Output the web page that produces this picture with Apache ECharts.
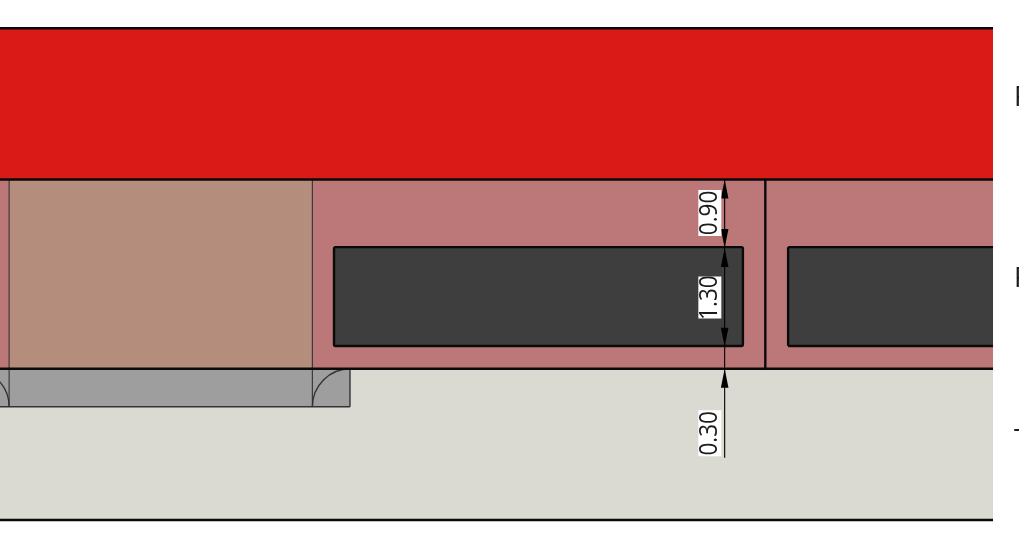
<!DOCTYPE html>
<html>
<head>
<meta charset="utf-8">
<style>html,body{margin:0;padding:0;background:#fff;overflow:hidden}#c{width:1019px;height:539px}</style>
<script src="https://cdn.jsdelivr.net/npm/echarts@6/dist/echarts.min.js"></script>
</head>
<body>
<div id="c"></div>
<script>
// Values in millimetres
const layerNames = ['F', 'F', 'T'];
const layerThickness = [1.99, 2.49, 1.99];      // top red, middle, bottom
const padWidths = [5.38, 3];
const padStarts = [4.395, 10.37];
const padHeight = 1.30;
const padOffset = 0.30;
const dimValues = [0.90, 1.30, 0.30];
const dimLabels = ['0.90', '1.30', '0.30'];
const overlapStart = 0.12;
const overlapWidth = 3.99;
const tabWidth = 4.605;
const tabDepth = 0.50;
const filletRadius = 0.50;
const separatorX = 10.07;
const dimX = 9.535;
const drawingWidth = 13.066;
const mmX = 1019 / 76, mmBelow = 0.25;

const colors = {
  red: '#d91a17', mid: '#bc7878', overlap: '#b58d7d', tab: '#9e9e9e',
  base: '#dadad2', pad: '#3e3e3e', ink: '#0a0a0a', thin: '#333333'
};

const y1 = layerThickness[2];
const y2 = y1 + layerThickness[1];
const y3 = y2 + layerThickness[0];
const padBottom = y1 + padOffset;
const padTop = padBottom + padHeight;

const layerRects = [
  [0, drawingWidth, y2, y3, colors.red],
  [0, drawingWidth, y1, y2, colors.mid],
  [0, drawingWidth, 0, y1, colors.base],
  [overlapStart, overlapStart + overlapWidth, y1, y2, colors.overlap],
  [0, tabWidth, y1 - tabDepth, y1, colors.tab]
];

function seg(api, a, b, c, d, stroke, w) {
  const p = api.coord([a, b]), q = api.coord([c, d]);
  return { type: 'line', shape: { x1: p[0], y1: p[1], x2: q[0], y2: q[1] }, style: { stroke, lineWidth: w } };
}
function arrow(api, x, yTip, dir) {
  const t = api.coord([x, yTip]);
  const len = 19, hw = 3.8;
  return { type: 'polygon', shape: { points: [[t[0], t[1]], [t[0] - hw, t[1] + dir * len], [t[0] + hw, t[1] + dir * len]] }, style: { fill: '#000' } };
}

function renderDrawing(params, api) {
  const kids = [];
  layerRects.forEach(r => {
    const a = api.coord([r[0], r[3]]), b = api.coord([r[1], r[2]]);
    kids.push({ type: 'rect', shape: { x: a[0], y: a[1], width: b[0] - a[0], height: b[1] - a[1] }, style: { fill: r[4] } });
  });
  // thin outlines
  [overlapStart, overlapStart + overlapWidth].forEach(x => kids.push(seg(api, x, y1 - tabDepth, x, y2, colors.thin, 1.1)));
  kids.push(seg(api, 0, y1 - tabDepth, tabWidth, y1 - tabDepth, colors.thin, 1.4));
  kids.push(seg(api, tabWidth, y1 - tabDepth, tabWidth, y1, colors.thin, 1.4));
  // fillets
  const sz = api.size([filletRadius, filletRadius]);
  const cR = api.coord([overlapStart + overlapWidth + filletRadius, y1 - tabDepth]);
  const cL = api.coord([overlapStart - filletRadius, y1 - tabDepth]);
  kids.push({ type: 'arc', shape: { cx: cR[0], cy: cR[1], r: sz[0], startAngle: Math.PI, endAngle: 1.5 * Math.PI, clockwise: true }, style: { stroke: colors.thin, lineWidth: 1.4, fill: null } });
  kids.push({ type: 'arc', shape: { cx: cL[0], cy: cL[1], r: sz[0], startAngle: 1.5 * Math.PI, endAngle: 2 * Math.PI, clockwise: true }, style: { stroke: colors.thin, lineWidth: 1.4, fill: null } });
  // pads
  padStarts.forEach((s, i) => {
    const a = api.coord([s, padTop]), b = api.coord([s + padWidths[i], padBottom]);
    const xEnd = Math.min(b[0], api.coord([drawingWidth, 0])[0]);
    if (i === 0) {
      kids.push({ type: 'rect', shape: { x: a[0], y: a[1], width: xEnd - a[0], height: b[1] - a[1], r: 1.5 }, style: { fill: colors.pad, stroke: colors.ink, lineWidth: 2.4 } });
    } else {
      kids.push({ type: 'rect', shape: { x: a[0], y: a[1], width: xEnd - a[0], height: b[1] - a[1] }, style: { fill: colors.pad } });
      kids.push(seg(api, s, padTop, s, padBottom, colors.ink, 2.4));
      kids.push(seg(api, s, padTop, drawingWidth, padTop, colors.ink, 2.4));
      kids.push(seg(api, s, padBottom, drawingWidth, padBottom, colors.ink, 2.4));
    }
  });
  // layer boundaries
  [0, y1, y2, y3].forEach(y => kids.push(seg(api, 0, y, drawingWidth, y, colors.ink, 2.4)));
  kids.push(seg(api, separatorX, y1, separatorX, y2, colors.ink, 2.4));
  // dimension line
  kids.push(seg(api, dimX, y2, dimX, y1 - 1.17, '#000', 1.1));
  const top = y2, a = top - dimValues[0], b = a - dimValues[1], c = y1;
  kids.push(arrow(api, dimX, top, 1), arrow(api, dimX, a, -1));
  kids.push(arrow(api, dimX, a, 1), arrow(api, dimX, b, -1));
  kids.push(arrow(api, dimX, c, 1));
  // dimension labels
  const lx = dimX - 0.195;
  const boxLengths = [46, 42, 46];
  [(top + a) / 2 + 0.01, (a + b) / 2 - 0.004, c - 0.85].forEach((v, i) => {
    const p = api.coord([lx, v]);
    const h = boxLengths[i];
    kids.push({ type: 'rect', shape: { x: p[0] - 11.5, y: p[1] - h / 2, width: 23, height: h }, style: { fill: '#fff' } });
    kids.push({ type: 'text', x: p[0], y: p[1], rotation: Math.PI / 2, scaleX: 0.9, style: { text: dimLabels[i], font: '25px "Open Sans"', fill: '#1c1c1c', align: 'center', verticalAlign: 'middle' } });
  });
  // clipped layer names
  [y3 - 0.925, y2 - 1.31, y1 - 0.96].forEach((v, i) => {
    const p = api.coord([drawingWidth + 0.275, v]);
    kids.push({ type: 'text', x: p[0], y: p[1], style: { text: layerNames[i], font: '27px "Open Sans"', fill: '#1c1c1c', align: 'left', verticalAlign: 'middle' } });
  });
  return { type: 'group', children: kids };
}

const chart = echarts.init(document.getElementById('c'), null, { renderer: 'canvas' });
chart.setOption({
  animation: false,
  backgroundColor: '#fff',
  grid: { left: 0, right: 0, top: 0, bottom: 0 },
  xAxis: { type: 'value', min: 0, max: mmX, show: false },
  yAxis: { type: 'value', min: -mmBelow, max: 539 / 76 - mmBelow, show: false },
  series: [{ type: 'custom', coordinateSystem: 'cartesian2d', renderItem: renderDrawing, data: [[0, 0]], silent: true, clip: false }]
});
</script>
</body>
</html>
